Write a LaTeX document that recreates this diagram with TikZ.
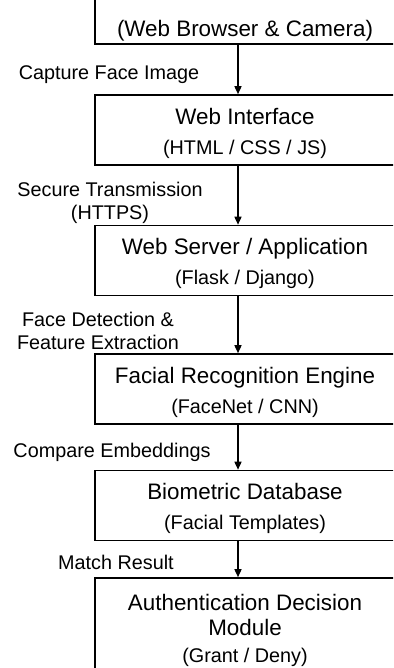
\documentclass[tikz,border=0pt]{standalone}
\usepackage{fontspec}
\setmainfont{Liberation Sans}
\usepackage{tikz}
\usetikzlibrary{
  arrows.meta,
  positioning,
}

\newcommand{\subline}{\fontsize{19.8}{30}\selectfont}
\newcommand{\topgap}[1]{\rule{0pt}{#1}}

\begin{document}
\begin{tikzpicture}[x=1pt, y=-1pt, >={Triangle[width=7pt,length=8pt]},
  stage/.style={draw, line width=1.6pt, minimum width=300pt, minimum height=70pt,
    align=center, inner sep=0pt, font=\fontsize{22.4}{30}\selectfont},
  flow/.style={->, line width=1.5pt},
  note/.style={align=center, inner sep=0pt, font=\fontsize{19.8}{23}\selectfont}]
  \path[use as bounding box, clip] (0,0) rectangle (393,668);

  \node[stage, minimum height=0pt, text height=80pt, text depth=5pt, inner ysep=3pt,
    anchor=south] (device) at (245,45) {(Web Browser \& Camera)};
  \node[stage] (web) at (245,130) {\topgap{22.5pt}Web Interface\\{\subline (HTML / CSS / JS)}};
  \node[stage] (server) at (245,260.5) {\topgap{22.5pt}Web Server / Application\\{\subline (Flask / Django)}};
  \node[stage] (engine) at (245,389) {\topgap{22.5pt}Facial Recognition Engine\\{\subline (FaceNet / CNN)}};
  \node[stage] (db) at (245,505.5) {\topgap{22.5pt}Biometric Database\\{\subline (Facial Templates)}};
  \node[stage, minimum height=100pt] (decision) at (245,628)
    {\topgap{20.5pt}Authentication Decision\\[-5pt]Module\\[-3pt]{\subline (Grant / Deny)}};

  \draw[flow] ([xshift=-7pt]device.south) -- ([xshift=-7pt]web.north);
  \draw[flow] ([xshift=-7pt]web.south) -- ([xshift=-7pt]server.north);
  \draw[flow] ([xshift=-7pt]server.south) -- ([xshift=-7pt]engine.north);
  \draw[flow] ([xshift=-7pt]engine.south) -- ([xshift=-7pt]db.north);
  \draw[flow] ([xshift=-7pt]db.south) -- ([xshift=-7pt]decision.north);

  \node[note] (capture) at (109,75) {Capture Face Image};
  \node[note] (secure) at (110,203) {Secure Transmission\\(HTTPS)};
  \node[note] (detect) at (98,331) {Face Detection \&\\Feature Extraction};
  \node[note] (compare) at (112,452) {Compare Embeddings};
  \node[note] (match) at (116,562) {Match Result};
\end{tikzpicture}
\end{document}
